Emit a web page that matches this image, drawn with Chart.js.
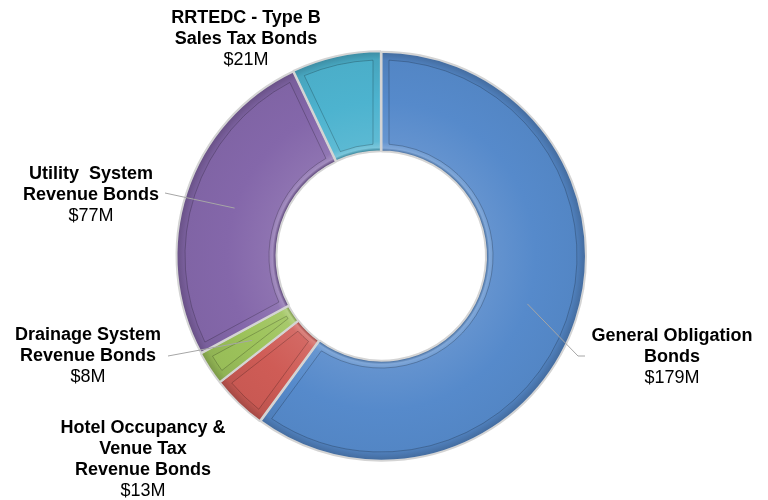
<!DOCTYPE html>
<html>
<head>
<meta charset="utf-8">
<script src="https://cdn.jsdelivr.net/npm/chart.js@4.4.1/dist/chart.umd.min.js"></script>
<style>
  html, body { margin: 0; padding: 0; background: #ffffff; }
  #wrap { width: 768px; height: 500px; position: relative; }
</style>
</head>
<body>
<div id="wrap"><canvas id="c" width="768" height="500"></canvas></div>
<script>
// ---- Data ----
const categories = [
  "General Obligation Bonds",
  "Hotel Occupancy & Venue Tax Revenue Bonds",
  "Drainage System Revenue Bonds",
  "Utility System Revenue Bonds",
  "RRTEDC - Type B Sales Tax Bonds"
];
const values = [179, 13, 8, 77, 21];
const valueLabels = ["$179M", "$13M", "$8M", "$77M", "$21M"];
const labelLines = [
  ["General Obligation", "Bonds"],
  ["Hotel Occupancy &", "Venue Tax", "Revenue Bonds"],
  ["Drainage System", "Revenue Bonds"],
  ["Utility  System", "Revenue Bonds"],
  ["RRTEDC - Type B", "Sales Tax Bonds"]
];

// ---- Styles ----
const sliceColors = ["#568ACB", "#CF5C56", "#9DC35B", "#8467AA", "#4DB3CF"];
const labelPlacement = [
  { x: 672, y: 336, leader: [[578, 356], [585, 356]] },
  { x: 143, y: 428, leader: null },
  { x: 88,  y: 335, leader: [[168, 356]] },
  { x: 91,  y: 174, leader: [[165, 193]] },
  { x: 246, y: 18,  leader: null }
];
const CUTOUT = 0.51;
const BEVEL = 8;

function hexToRgb(h) {
  const n = parseInt(h.slice(1), 16);
  return [(n >> 16) & 255, (n >> 8) & 255, n & 255];
}
function mix(h, amt) {
  const [r, g, b] = hexToRgb(h);
  const t = amt < 0 ? 0 : 255, p = Math.abs(amt);
  const f = v => Math.round(v + (t - v) * p);
  return `rgb(${f(r)},${f(g)},${f(b)})`;
}

function frameFill(ctx) {
  const chart = ctx.chart;
  const base = sliceColors[ctx.dataIndex];
  const a = chart.chartArea;
  if (!a) return base;
  const cx = (a.left + a.right) / 2, cy = (a.top + a.bottom) / 2;
  const outerR = Math.min(a.right - a.left, a.bottom - a.top) / 2;
  const innerR = outerR * CUTOUT;
  const g = chart.ctx.createRadialGradient(cx, cy, innerR, cx, cy, outerR);
  g.addColorStop(0, mix(base, -0.25));
  g.addColorStop(0.03, mix(base, 0.25));
  g.addColorStop(0.09, mix(base, 0.1));
  g.addColorStop(0.5, base);
  g.addColorStop(0.9, mix(base, -0.08));
  g.addColorStop(0.97, mix(base, -0.2));
  g.addColorStop(1, mix(base, -0.08));
  return g;
}

const bevelPlugin = {
  id: 'bevel',
  afterDatasetsDraw(chart) {
    const ctx = chart.ctx;
    const meta = chart.getDatasetMeta(0);
    ctx.save();
    meta.data.forEach((arc, i) => {
      const p = arc.getProps(['x', 'y', 'startAngle', 'endAngle', 'innerRadius', 'outerRadius'], true);
      const ro = p.outerRadius - BEVEL, ri = p.innerRadius + BEVEL;
      const dO = BEVEL / ro, dI = BEVEL / ri;
      if (p.endAngle - p.startAngle <= 2 * dI) return;
      ctx.beginPath();
      ctx.arc(p.x, p.y, ro, p.startAngle + dO, p.endAngle - dO);
      ctx.arc(p.x, p.y, ri, p.endAngle - dI, p.startAngle + dI, true);
      ctx.closePath();
      const base = sliceColors[i];
      const g = ctx.createRadialGradient(p.x, p.y, ri, p.x, p.y, ro);
      g.addColorStop(0, mix(base, 0.08));
      g.addColorStop(0.5, base);
      g.addColorStop(1, mix(base, -0.03));
      ctx.fillStyle = g;
      ctx.fill();
      ctx.lineWidth = 1;
      ctx.strokeStyle = 'rgba(0,0,0,0.22)';
      ctx.stroke();
    });
    ctx.restore();
  }
};

const labelPlugin = {
  id: 'outLabels',
  afterDatasetsDraw(chart) {
    const ctx = chart.ctx;
    const meta = chart.getDatasetMeta(0);
    ctx.save();
    meta.data.forEach((arc, i) => {
      const p = arc.getProps(['x', 'y', 'startAngle', 'endAngle', 'innerRadius', 'outerRadius'], true);
      const mid = (p.startAngle + p.endAngle) / 2;
      const r = (p.innerRadius + p.outerRadius) / 2;
      const sx = p.x + Math.cos(mid) * r, sy = p.y + Math.sin(mid) * r;
      const lp = labelPlacement[i];
      if (lp.leader) {
        ctx.strokeStyle = '#a6a6a6';
        ctx.lineWidth = 1;
        ctx.beginPath();
        ctx.moveTo(sx, sy);
        lp.leader.forEach(pt => ctx.lineTo(pt[0], pt[1]));
        ctx.stroke();
      }
      ctx.fillStyle = '#000';
      ctx.textAlign = 'center';
      ctx.textBaseline = 'middle';
      let y = lp.y;
      ctx.font = 'bold 18px "Liberation Sans", Arial, sans-serif';
      labelLines[i].forEach(line => { ctx.fillText(line, lp.x, y); y += 21; });
      ctx.font = '18px "Liberation Sans", Arial, sans-serif';
      ctx.fillText(valueLabels[i], lp.x, y);
    });
    ctx.restore();
  }
};

new Chart(document.getElementById('c'), {
  type: 'doughnut',
  data: {
    labels: categories,
    datasets: [{
      data: values,
      backgroundColor: frameFill,
      borderColor: '#d4d4d4',
      borderWidth: 2,
      offset: 2
    }]
  },
  options: {
    responsive: false,
    animation: false,
    cutout: (CUTOUT * 100) + '%',
    rotation: 0,
    layout: { padding: { top: 50, bottom: 38, left: 175, right: 181 } },
    plugins: {
      legend: { display: false },
      tooltip: { enabled: false }
    }
  },
  plugins: [bevelPlugin, labelPlugin]
});
</script>
</body>
</html>
